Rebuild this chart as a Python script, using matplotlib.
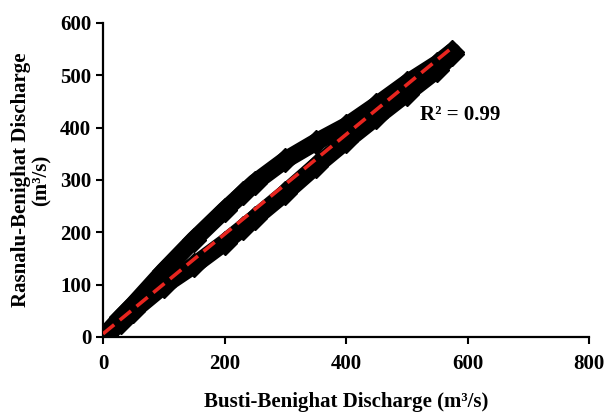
import matplotlib.pyplot as plt

# Busti-Benighat vs Rasnalu-Benighat discharge (m3/s)
rising_x = [5, 30, 50, 100, 150, 200, 231, 250, 300, 350, 400, 450, 500, 550, 575]
rising_y = [6, 38, 62, 126, 186, 242, 275, 295, 338, 372, 403, 443, 485, 522, 545]
falling_x = [5, 30, 50, 100, 150, 200, 231, 250, 300, 350, 400, 450, 500, 550, 575]
falling_y = [4, 28, 50, 98, 137, 180, 209, 227, 275, 326, 374, 420, 465, 510, 540]

# linear trend line end points
trend_x = [0, 578]
trend_y = [6, 556]
r2_text = "R\u00b2 = 0.99"

plt.rcParams['font.family'] = ['Liberation Serif', 'DejaVu Serif']
plt.rcParams['font.weight'] = 'bold'

fig = plt.figure(figsize=(6.06, 4.15), dpi=100)
ax = fig.add_axes([0.170, 0.188, 0.802, 0.757])

# the two limbs of the loop
for xs, ys in [(rising_x, rising_y), (falling_x, falling_y)]:
    ax.plot(xs, ys, color='black', lw=12.5, solid_capstyle='round',
            solid_joinstyle='round', zorder=2)
    ax.plot(xs, ys, 'D', color='black', ms=12, zorder=2)

ax.plot(trend_x, trend_y, color='#e8251f', lw=2.6, dashes=(4, 2), zorder=3)
ax.text(522, 424, r2_text, fontsize=15, fontweight='bold', va='center')

ax.set_xlim(0, 800)
ax.set_ylim(0, 600)
ax.set_xticks([0, 200, 400, 600, 800])
ax.set_yticks([0, 100, 200, 300, 400, 500, 600])
ax.tick_params(labelsize=15, width=1.5, length=5, direction='out')
ax.tick_params(axis='x', pad=7)
for lab in ax.get_xticklabels() + ax.get_yticklabels():
    lab.set_fontweight('bold')

for s in ['top', 'right']:
    ax.spines[s].set_visible(False)
for s in ['left', 'bottom']:
    ax.spines[s].set_linewidth(1.6)

ax.set_xlabel("Busti-Benighat Discharge (m\u00b3/s)", fontsize=15,
              fontweight='bold', labelpad=13)
ax.set_ylabel("Rasnalu-Benighat Discharge\n(m\u00b3/s)", fontsize=15,
              fontweight='bold', labelpad=6, linespacing=1.05)

fig.savefig('out.png', dpi=100)
